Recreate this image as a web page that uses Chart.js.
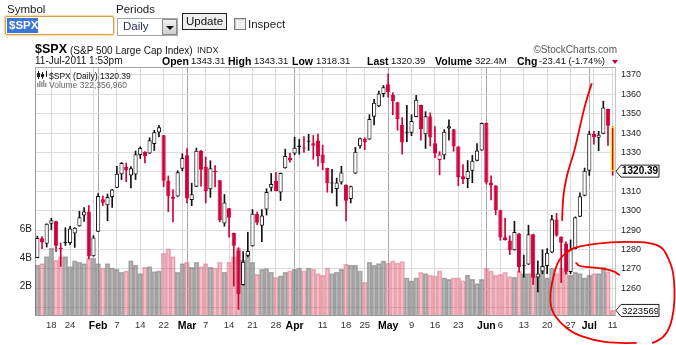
<!DOCTYPE html>
<html>
<head>
<meta charset="utf-8">
<script src="https://cdn.jsdelivr.net/npm/chart.js@4.4.1/dist/chart.umd.min.js"></script>
<style>
html, body { margin: 0; padding: 0; background: #fff; }
body { width: 676px; height: 345px; position: relative; overflow: hidden; font-family: Arial, "Liberation Sans", sans-serif; }
#chart { position: absolute; left: 0; top: 0; }
.t { position: absolute; white-space: nowrap; line-height: 1; }
.box { position: absolute; box-sizing: border-box; }
</style>
</head>
<body>
<canvas id="chart" width="676" height="345"></canvas>

<!-- form controls -->
<div class="box" style="left:5px;top:16px;width:109px;height:19px;border:1px solid #d6a04a;border-radius:2px;box-shadow:0 0 2px 1px #f3d39b;background:#fff;"></div>
<div class="box" style="left:7px;top:18px;width:31px;height:15px;background:#3a77d6;"></div>
<div class="box" style="left:117px;top:18px;width:61px;height:18px;border:1px solid #a3a9b2;background:#fff;"></div>
<div class="box" style="left:162px;top:19px;width:15px;height:16px;border:1px solid #8c8c8c;background:linear-gradient(#f0f0f0,#cfcfcf);"></div>
<div class="box" style="left:166px;top:26px;width:0;height:0;border-left:4px solid transparent;border-right:4px solid transparent;border-top:4px solid #111;"></div>
<div class="box" style="left:182px;top:13px;width:45px;height:17px;border:1px solid #222;background:#eee;"></div>
<div class="box" style="left:234px;top:18px;width:12px;height:12px;border:1px solid #7a7a7a;background:#f2f2f2;box-shadow:inset 1px 1px 1px #ccc;"></div>
<div class="box" style="left:612px;top:60px;width:0;height:0;border-left:3px solid transparent;border-right:3px solid transparent;border-top:4px solid #c8002e;"></div>

<script>
// trading days shown (Jan 12 - Jul 11, 2011)
const monthDays = {
  Jan: [12, 13, 14, 18, 19, 20, 21, 24, 25, 26, 27, 28, 31],
  Feb: [1, 2, 3, 4, 7, 8, 9, 10, 11, 14, 15, 16, 17, 18, 22, 23, 24, 25, 28],
  Mar: [1, 2, 3, 4, 7, 8, 9, 10, 11, 14, 15, 16, 17, 18, 21, 22, 23, 24, 25, 28, 29, 30, 31],
  Apr: [1, 4, 5, 6, 7, 8, 11, 12, 13, 14, 15, 18, 19, 20, 21, 25, 26, 27, 28, 29],
  May: [2, 3, 4, 5, 6, 9, 10, 11, 12, 13, 16, 17, 18, 19, 20, 23, 24, 25, 26, 27, 31],
  Jun: [1, 2, 3, 6, 7, 8, 9, 10, 13, 14, 15, 16, 17, 20, 21, 22, 23, 24, 27, 28, 29, 30],
  Jul: [1, 5, 6, 7, 8, 11]
};
const dates = Object.keys(monthDays).flatMap(m => monthDays[m].map(d => m + ' ' + d));

const opens = [
  1275.65, 1285.78, 1282.90, 1293.22, 1294.52, 1280.85, 1283.63, 1283.29, 1288.17, 1291.97, 1297.51, 1299.63, 1276.50,
  1289.14, 1305.91, 1302.77, 1307.01, 1311.85, 1318.76, 1322.48, 1318.13, 1318.66, 1328.73, 1330.43, 1329.51, 1334.37, 1340.38, 1338.91, 1315.44, 1307.09, 1307.34, 1321.61,
  1328.64, 1305.47, 1312.37, 1330.73, 1322.72, 1311.05, 1319.92, 1315.72, 1293.43, 1301.19, 1288.46, 1279.46, 1261.61, 1276.71, 1281.65, 1298.29, 1292.19, 1300.61, 1311.80, 1315.45, 1309.37, 1321.89, 1327.44,
  1329.48, 1333.56, 1332.03, 1335.94, 1334.82, 1336.16, 1329.01, 1321.96, 1314.03, 1311.13, 1314.54, 1313.35, 1305.99, 1319.12, 1333.23, 1337.14, 1336.75, 1348.43, 1353.86, 1360.14,
  1365.21, 1359.76, 1355.90, 1344.16, 1340.24, 1340.20, 1348.34, 1354.51, 1339.39, 1348.69, 1334.77, 1326.10, 1328.54, 1342.40, 1342.00, 1333.07, 1317.70, 1316.36, 1320.64, 1325.69, 1331.10,
  1345.20, 1314.55, 1312.94, 1300.26, 1286.31, 1284.63, 1279.63, 1288.26, 1271.31, 1272.22, 1287.87, 1265.53, 1268.58, 1271.50, 1278.40, 1295.48, 1286.60, 1283.04, 1268.44, 1280.21, 1296.85, 1307.64,
  1320.64, 1339.59, 1337.56, 1339.62, 1352.39, 1343.31
];
const highs = [
  1286.87, 1286.70, 1293.24, 1296.06, 1294.60, 1283.35, 1291.21, 1291.93, 1291.26, 1299.74, 1301.63, 1302.67, 1287.17,
  1308.86, 1307.61, 1308.60, 1311.00, 1322.85, 1324.87, 1324.54, 1322.78, 1330.79, 1332.96, 1330.43, 1337.61, 1341.50, 1344.07, 1338.91, 1317.91, 1310.91, 1320.61, 1329.38,
  1332.09, 1314.19, 1332.28, 1331.08, 1327.68, 1325.74, 1323.21, 1315.72, 1308.35, 1301.19, 1288.46, 1280.91, 1278.88, 1288.88, 1300.58, 1299.35, 1300.51, 1311.34, 1319.18, 1319.74, 1319.45, 1331.74, 1329.77,
  1337.85, 1336.74, 1338.21, 1339.38, 1338.80, 1339.46, 1333.77, 1321.96, 1321.35, 1316.79, 1322.88, 1313.35, 1312.70, 1332.66, 1337.49, 1337.55, 1349.55, 1357.49, 1361.71, 1364.56,
  1370.58, 1360.84, 1355.90, 1348.00, 1354.36, 1349.44, 1359.44, 1354.51, 1351.05, 1350.47, 1343.33, 1330.42, 1341.82, 1346.82, 1342.00, 1333.07, 1323.72, 1325.86, 1328.51, 1334.62, 1345.20,
  1345.20, 1318.03, 1312.94, 1300.26, 1296.22, 1287.04, 1294.54, 1288.26, 1277.04, 1292.50, 1287.87, 1274.11, 1279.82, 1280.42, 1297.62, 1298.61, 1286.60, 1283.93, 1284.91, 1296.80, 1309.21, 1321.97,
  1341.01, 1340.89, 1340.94, 1356.48, 1352.39, 1343.31
];
const lows = [
  1275.65, 1280.47, 1281.24, 1290.16, 1278.92, 1271.26, 1282.07, 1282.47, 1281.07, 1291.97, 1294.41, 1275.10, 1276.50,
  1289.14, 1302.62, 1294.83, 1301.67, 1311.85, 1316.03, 1314.89, 1311.74, 1316.08, 1326.90, 1324.61, 1329.51, 1331.00, 1338.12, 1312.33, 1299.55, 1294.26, 1307.34, 1320.55,
  1303.99, 1302.58, 1312.37, 1312.59, 1303.99, 1306.86, 1312.27, 1294.21, 1291.99, 1286.37, 1261.12, 1249.05, 1261.61, 1276.18, 1281.65, 1292.70, 1284.05, 1297.74, 1310.15, 1310.19, 1305.26, 1321.89, 1325.03,
  1328.89, 1329.10, 1330.03, 1331.09, 1326.56, 1322.94, 1321.06, 1309.51, 1309.19, 1302.42, 1313.68, 1294.70, 1303.97, 1319.12, 1332.27, 1331.47, 1336.75, 1344.25, 1353.60, 1358.69,
  1358.59, 1349.52, 1341.50, 1329.17, 1335.58, 1338.64, 1348.34, 1336.36, 1332.03, 1333.36, 1327.32, 1318.51, 1326.59, 1336.36, 1330.67, 1312.88, 1313.87, 1311.80, 1314.41, 1325.69, 1331.10,
  1313.71, 1305.61, 1297.90, 1284.72, 1284.74, 1277.42, 1279.63, 1268.28, 1265.64, 1272.22, 1261.90, 1258.07, 1267.40, 1267.56, 1278.40, 1286.79, 1262.87, 1267.24, 1267.53, 1280.21, 1296.85, 1307.64,
  1318.18, 1334.30, 1330.92, 1339.62, 1333.71, 1318.31
];
const closes = [
  1285.96, 1283.76, 1293.24, 1295.02, 1281.92, 1280.26, 1283.35, 1290.84, 1291.18, 1296.63, 1299.54, 1276.34, 1286.12,
  1307.59, 1304.03, 1307.10, 1310.87, 1319.05, 1324.57, 1320.88, 1321.87, 1329.15, 1332.32, 1328.01, 1336.32, 1340.43, 1343.01, 1315.44, 1307.40, 1306.10, 1319.88, 1327.22,
  1306.33, 1308.44, 1330.97, 1321.15, 1310.13, 1321.82, 1320.02, 1295.11, 1304.28, 1296.39, 1281.87, 1256.88, 1273.72, 1279.21, 1298.38, 1293.77, 1297.54, 1309.66, 1313.80, 1310.19, 1319.44, 1328.26, 1325.83,
  1332.41, 1332.87, 1332.63, 1335.54, 1333.51, 1328.17, 1324.46, 1314.16, 1314.41, 1314.52, 1319.68, 1305.14, 1312.62, 1330.36, 1337.38, 1335.25, 1347.24, 1355.66, 1360.48, 1363.61,
  1361.22, 1356.62, 1347.32, 1335.10, 1340.20, 1346.29, 1357.16, 1342.08, 1348.65, 1337.77, 1329.47, 1328.98, 1340.68, 1343.60, 1333.27, 1317.37, 1316.28, 1320.47, 1325.69, 1331.10, 1345.20,
  1314.55, 1312.94, 1300.16, 1286.17, 1284.94, 1279.56, 1289.00, 1270.98, 1271.83, 1287.87, 1265.42, 1267.64, 1271.50, 1278.36, 1295.52, 1287.14, 1283.50, 1268.45, 1280.10, 1296.67, 1307.41, 1320.64,
  1339.67, 1337.88, 1339.22, 1353.22, 1343.80, 1320.39
];
// volume, billions of shares
const volumes = [
  3.5, 3.6, 4.1, 4.7, 3.85, 4.1, 4.1, 3.4, 3.8, 3.7, 3.6, 4.0, 4.0,
  3.6, 3.3, 3.6, 3.3, 3.2, 3.0, 3.1, 3.8, 3.5, 2.9, 3.35, 3.4, 3.05, 3.1, 4.35, 4.65, 4.1, 3.0, 3.6,
  3.7, 3.35, 3.7, 3.4, 3.6, 3.35, 3.3, 3.7, 3.0, 3.7, 4.1, 4.7, 3.85, 4.35, 3.7, 2.85, 3.2, 3.25, 3.0, 2.65, 2.75, 3.0, 3.1,
  3.2, 3.3, 3.1, 3.3, 3.2, 2.9, 2.8, 3.3, 2.9, 3.0, 3.2, 3.55, 3.5, 3.5, 3.1, 2.3, 3.7, 3.5, 3.6, 3.8,
  3.65, 3.8, 3.65, 3.75, 2.6, 2.4, 2.6, 3.0, 2.9, 2.8, 2.75, 3.1, 2.6, 2.5, 2.6, 2.6, 2.4, 2.8, 2.5, 2.2, 2.5,
  3.3, 3.1, 2.8, 2.85, 3.0, 2.7, 2.65, 3.1, 2.9, 2.9, 2.85, 2.7, 3.4, 2.6, 3.3, 2.9, 3.3, 3.1, 2.8, 3.0, 2.9, 2.6,
  2.8, 2.9, 2.9, 3.35, 3.05, 0.32
];
const lastVolume = 322356960;

const priceTicks = [1250, 1260, 1270, 1280, 1290, 1300, 1310, 1320, 1330, 1340, 1350, 1360, 1370];
const volumeTicks = [2, 4, 6];
const tickDates = ['Jan 18', 'Jan 24', 'Feb 1', 'Feb 7', 'Feb 14', 'Feb 22', 'Mar 1', 'Mar 7', 'Mar 14', 'Mar 21', 'Mar 28',
  'Apr 1', 'Apr 11', 'Apr 18', 'Apr 25', 'May 2', 'May 9', 'May 16', 'May 23', 'Jun 1', 'Jun 6', 'Jun 13', 'Jun 20', 'Jun 27', 'Jul 1', 'Jul 11'];
const tickText = ['18', '24', 'Feb', '7', '14', '22', 'Mar', '7', '14', '21', '28',
  'Apr', '11', '18', '25', 'May', '9', '16', '23', 'Jun', '6', '13', '20', '27', 'Jul', '11'];
const weekStarts = ['Jan 18', 'Jan 24', 'Jan 31', 'Feb 7', 'Feb 14', 'Feb 22', 'Feb 28', 'Mar 7', 'Mar 14', 'Mar 21', 'Mar 28',
  'Apr 4', 'Apr 11', 'Apr 18', 'Apr 25', 'May 2', 'May 9', 'May 16', 'May 23', 'May 31', 'Jun 6', 'Jun 13', 'Jun 20', 'Jun 27', 'Jul 5', 'Jul 11'];
const monthStarts = ['Feb 1', 'Mar 1', 'Apr 1', 'May 2', 'Jun 1', 'Jul 1'];

// hand-drawn red marks on the screenshot, in (day index, price) units
const markUp = [[112.2, 1295.2], [112.3, 1304.0], [112.7, 1312.2], [113.5, 1321.0], [114.6, 1328.7], [115.7, 1339.9], [116.7, 1350.9], [117.6, 1358.7], [118.5, 1365.4]];
const markLoop = [[128.0, 1231.8], [123.9, 1231.5], [118.8, 1233.1], [114.5, 1236.9], [111.8, 1242.1], [109.8, 1248.8], [109.6, 1257.6], [110.3, 1265.8],
  [111.1, 1273.0], [112.4, 1277.2], [114.5, 1280.8], [117.5, 1282.3], [120.9, 1283.4], [124.2, 1283.9], [126.7, 1284.0], [131.0, 1283.5], [133.6, 1281.3],
  [134.8, 1276.1], [135.9, 1269.4], [136.3, 1259.1], [136.1, 1248.8], [135.3, 1240.0], [133.8, 1234.4], [131.6, 1231.8]];
const markWave = [[115.2, 1273.0], [115.6, 1271.5], [117.1, 1271.0], [119.7, 1270.5], [122.0, 1269.7], [123.5, 1268.4], [124.4, 1266.9]];

const RED = '#d0003a';
const BLACK = '#111';
const last = closes.length - 1;
const isDown = i => i > 0 && closes[i] < closes[i - 1];
const candleColor = i => isDown(i) ? RED : BLACK;
const FONT = 'Arial, "Liberation Sans", sans-serif';

// page texts
function txt(s, x, base, size, weight, color, alignRight) {
  const d = document.createElement('div');
  d.className = 't';
  d.textContent = s;
  d.style.fontSize = size + 'px';
  d.style.fontWeight = weight || 400;
  d.style.color = color || '#111';
  d.style.top = (base - 0.8465 * size) + 'px';
  if (alignRight) d.style.right = (676 - x) + 'px'; else d.style.left = x + 'px';
  document.body.appendChild(d);
}
txt('Symbol', 7, 14, 11.5, 400, '#1a1a1a');
txt('Periods', 116, 14, 11.5, 400, '#1a1a1a');
txt('$SPX', 9, 29.5, 11.5, 700, '#fff');
txt('Daily', 123, 30.5, 11.5, 400, '#27325e');
txt('Update', 186, 25.5, 11.5, 400, '#111');
txt('Inspect', 248, 28.5, 11.5, 400, '#1a1a1a');

txt('$SPX', 35, 54, 12.5, 700, '#000');
txt('(S&P 500 Large Cap Index)', 70, 54, 10, 400, '#111');
txt('INDX', 197, 54, 9, 400, '#222');
txt('\u00a9StockCharts.com', 617, 53, 10, 400, '#555', true);

txt('11-Jul-2011 1:53pm', 35, 64.5, 10, 400, '#111');
const stats = [['Open', '1343.31', 162, 191], ['High', '1343.31', 228, 254], ['Low', '1318.31', 292, 316],
  ['Last', '1320.39', 367, 391], ['Volume', '322.4M', 435, 475], ['Chg', '-23.41 (-1.74%)', 517, 539]];
stats.forEach(s => { txt(s[0], s[2], 64.5, 10.5, 700, '#000'); txt(s[1], s[3], 64.5, 9.5, 400, '#111'); });

function drawMark(ctx, pts, xs, ys) {
  const p = pts.map(q => [xs.getPixelForValue(q[0]), ys.getPixelForValue(q[1])]);
  ctx.beginPath();
  ctx.moveTo(p[0][0], p[0][1]);
  for (let i = 1; i < p.length - 1; i++) {
    const mx = (p[i][0] + p[i + 1][0]) / 2, my = (p[i][1] + p[i + 1][1]) / 2;
    ctx.quadraticCurveTo(p[i][0], p[i][1], mx, my);
  }
  ctx.lineTo(p[p.length - 1][0], p[p.length - 1][1]);
  ctx.stroke();
}

function valueTag(ctx, x, y, text, font, w) {
  ctx.beginPath();
  ctx.moveTo(x + 1, y);
  ctx.lineTo(x + 6, y - 6);
  ctx.lineTo(x + w, y - 6);
  ctx.lineTo(x + w, y + 6);
  ctx.lineTo(x + 6, y + 6);
  ctx.closePath();
  ctx.fillStyle = '#fff';
  ctx.fill();
  ctx.strokeStyle = '#222';
  ctx.lineWidth = 1;
  ctx.stroke();
  ctx.save();
  ctx.beginPath();
  ctx.rect(x + 6, y - 6, w - 7, 12);
  ctx.clip();
  ctx.fillStyle = '#000';
  ctx.font = font;
  ctx.textBaseline = 'middle';
  ctx.textAlign = 'left';
  ctx.fillText(text, x + 7, y + 0.5);
  ctx.restore();
}

const overlay = {
  id: 'overlay',
  afterDraw(chart) {
    const { ctx, chartArea: a, scales } = chart;
    ctx.save();
    ctx.strokeStyle = '#a8a8a8';
    ctx.lineWidth = 1;
    ctx.beginPath();
    ctx.moveTo(a.left, a.top + 0.5);
    ctx.lineTo(a.right, a.top + 0.5);
    ctx.stroke();

    // legend
    ctx.fillStyle = '#222';
    ctx.fillRect(38, 71, 1, 8); ctx.fillRect(37, 73, 3, 4);
    ctx.fillRect(42, 72, 1, 7); ctx.fillRect(41, 74, 3, 3);
    ctx.fillRect(46, 71, 1, 6);
    ctx.fillStyle = '#999';
    [[37, 83, 4], [39, 81, 6], [41, 82, 5], [43, 80, 7], [45, 83, 4]].forEach(b => ctx.fillRect(b[0], b[1], 1.5, b[2]));
    ctx.font = '8.5px ' + FONT;
    ctx.textBaseline = 'alphabetic';
    ctx.fillStyle = '#111';
    ctx.fillText('$SPX (Daily) ' + closes[last].toFixed(2), 49, 78.5);
    ctx.fillStyle = '#666';
    ctx.fillText('Volume ' + lastVolume.toLocaleString('en-US'), 49, 87.5);

    valueTag(ctx, a.right, scales.y.getPixelForValue(closes[last]), closes[last].toFixed(2), 'bold 10px ' + FONT, 44);
    valueTag(ctx, a.right, scales.yv.getPixelForValue(volumes[last]), String(lastVolume), '9.5px ' + FONT, 44);

    ctx.strokeStyle = '#f00000';
    ctx.lineWidth = 1.8;
    ctx.lineCap = 'round';
    ctx.lineJoin = 'round';
    [markUp, markLoop, markWave].forEach(m => drawMark(ctx, m, scales.x, scales.y));
    ctx.restore();
  }
};

Chart.defaults.font.family = FONT;
Chart.defaults.font.size = 9;

new Chart(document.getElementById('chart'), {
  type: 'bar',
  data: {
    labels: dates,
    datasets: [
      {
        label: 'Body',
        data: opens.map((o, i) => [o, closes[i]]),
        yAxisID: 'y',
        grouped: false,
        order: 1,
        barPercentage: 0.9,
        categoryPercentage: 1,
        minBarLength: 1,
        borderSkipped: false,
        borderWidth: dates.map((d, i) => i === last ? 1.5 : 1),
        borderColor: dates.map((d, i) => i === last ? '#f2e232' : candleColor(i)),
        backgroundColor: dates.map((d, i) => closes[i] >= opens[i] ? '#fff' : candleColor(i))
      },
      {
        label: 'Range',
        data: lows.map((l, i) => [l, highs[i]]),
        yAxisID: 'y',
        grouped: false,
        order: 2,
        barThickness: 1,
        borderWidth: 0,
        backgroundColor: dates.map((d, i) => candleColor(i))
      },
      {
        label: 'Volume',
        data: volumes,
        yAxisID: 'yv',
        grouped: false,
        order: 3,
        barPercentage: 1,
        categoryPercentage: 1,
        borderWidth: 1,
        borderSkipped: 'bottom',
        backgroundColor: dates.map((d, i) => isDown(i) ? 'rgba(222,80,105,0.36)' : 'rgba(120,120,120,0.52)'),
        borderColor: dates.map((d, i) => isDown(i) ? 'rgba(214,90,112,0.45)' : 'rgba(100,100,100,0.5)')
      }
    ]
  },
  options: {
    responsive: false,
    maintainAspectRatio: false,
    animation: false,
    devicePixelRatio: 1,
    layout: { padding: { top: 67, left: 0, right: 0, bottom: 0 } },
    plugins: { legend: { display: false }, tooltip: { enabled: false } },
    scales: {
      x: {
        type: 'category',
        offset: true,
        afterFit: s => { s.height = 30; },
        border: { display: true, color: '#9a9a9a' },
        grid: {
          offset: false,
          drawTicks: false,
          lineWidth: 1,
          color: c => {
            const d = dates[c.index];
            if (monthStarts.includes(d)) return '#a6a6a6';
            if (weekStarts.includes(d)) return '#dadada';
            return 'rgba(0,0,0,0)';
          }
        },
        ticks: {
          autoSkip: false,
          maxRotation: 0,
          padding: 5,
          callback: (v, i) => { const k = tickDates.indexOf(dates[i]); return k < 0 ? '' : tickText[k]; },
          font: c => {
            const k = tickDates.indexOf(dates[c.index]);
            return k >= 0 && isNaN(tickText[k]) ? { size: 10.5, weight: 'bold' } : { size: 9.5 };
          },
          color: c => {
            const k = tickDates.indexOf(dates[c.index]);
            return k >= 0 && isNaN(tickText[k]) ? '#000' : '#333';
          }
        }
      },
      y: {
        position: 'right',
        min: 1246.2,
        max: 1374.1,
        afterFit: s => { s.width = 61; },
        afterBuildTicks: s => { s.ticks = priceTicks.map(v => ({ value: v })); },
        border: { display: true, color: '#c4c4c4' },
        grid: { color: '#dcdcdc', lineWidth: 1, drawTicks: false },
        ticks: { padding: 6, color: '#222', font: { size: 9 }, callback: v => String(v) }
      },
      yv: {
        position: 'left',
        min: 0,
        max: 17.4,
        afterFit: s => { s.width = 35; },
        afterBuildTicks: s => { s.ticks = volumeTicks.map(v => ({ value: v })); },
        border: { display: true, color: '#9a9a9a' },
        grid: { display: false, drawTicks: false },
        ticks: { padding: 3, color: '#222', font: { size: 10 }, callback: v => v + 'B' }
      }
    }
  },
  plugins: [overlay]
});
</script>
</body>
</html>
